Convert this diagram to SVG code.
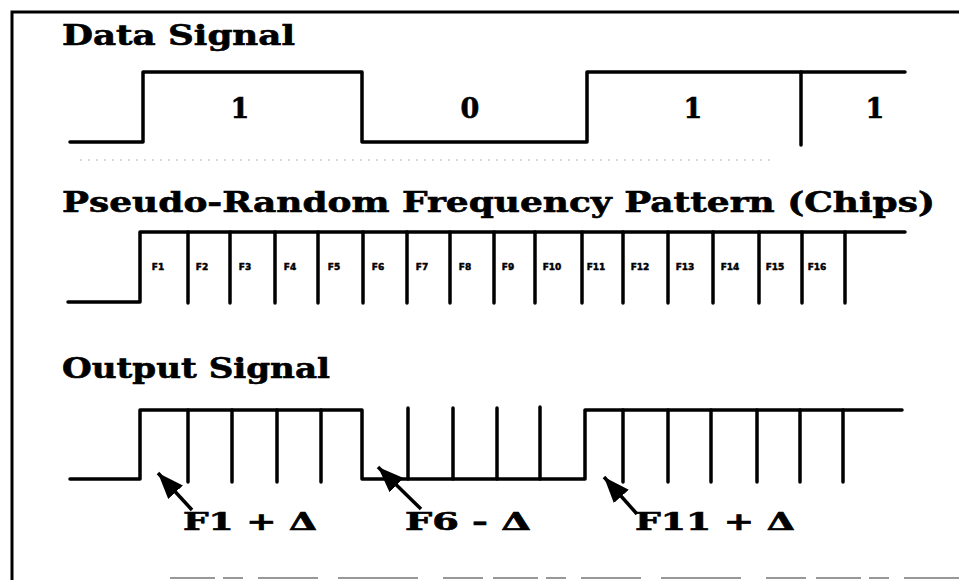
<svg xmlns="http://www.w3.org/2000/svg" width="959" height="580" viewBox="0 0 959 580">
<style>
.title{font-family:"DejaVu Serif","Liberation Serif",serif;font-weight:bold;font-size:28px;fill:#000;stroke:#000;stroke-width:0.6}
.bit{font-family:"DejaVu Serif","Liberation Serif",serif;font-weight:bold;font-size:27px;fill:#000;stroke:#000;stroke-width:0.6;text-anchor:middle}
.chip{font-family:"DejaVu Sans","Liberation Sans",sans-serif;font-weight:bold;font-size:9px;fill:#000;stroke:#000;stroke-width:0.5;text-anchor:middle}
.lbl{font-family:"DejaVu Serif","Liberation Serif",serif;font-weight:bold;font-size:25px;fill:#000;stroke:#000;stroke-width:0.7}
.wave{fill:none;stroke:#000;stroke-width:3.5;stroke-linejoin:round;stroke-linecap:round}
.tick{stroke:#000;stroke-width:3.5;stroke-linecap:round}
.arrow{stroke:#000;stroke-width:3.5}
</style>
<defs>
<marker id="ah" markerUnits="userSpaceOnUse" markerWidth="30" markerHeight="24" refX="26" refY="10" orient="auto">
<polygon points="0,0 26,10 0,20" fill="#000"/>
</marker>
</defs>
<rect width="959" height="580" fill="#fff"/>
<g id="frame">
<path d="M12,580 V12 H959" fill="none" stroke="#000" stroke-width="3"/>
<line x1="170" y1="578" x2="959" y2="578" stroke="#777" stroke-width="1.5" stroke-dasharray="45,8,20,15,60,20,80,25,40,10"/>
</g>
<g id="data-signal">
<text class="title" x="62" y="45" textLength="233" lengthAdjust="spacingAndGlyphs">Data Signal</text>
<path class="wave" d="M70,142 H143 V72 H362 V142 H587 V72 H905"/>
<line class="tick" x1="801" y1="72" x2="801" y2="145"/>
<text class="bit" x="240" y="118">1</text>
<text class="bit" x="470" y="118">0</text>
<text class="bit" x="693" y="118">1</text>
<text class="bit" x="875" y="118">1</text>
<line x1="80" y1="160" x2="770" y2="160" stroke="#ccc" stroke-width="1.5" stroke-dasharray="2,6"/>
</g>
<g id="chips">
<text class="title" x="62" y="212" textLength="873" lengthAdjust="spacingAndGlyphs">Pseudo-Random Frequency Pattern (Chips)</text>
<path class="wave" d="M68,302 H140 V232 H905"/>
<g>
<line class="tick" x1="188" y1="232" x2="188" y2="303"/>
<line class="tick" x1="230" y1="232" x2="230" y2="303"/>
<line class="tick" x1="275" y1="232" x2="275" y2="303"/>
<line class="tick" x1="318" y1="232" x2="318" y2="303"/>
<line class="tick" x1="363" y1="232" x2="363" y2="303"/>
<line class="tick" x1="407" y1="232" x2="407" y2="303"/>
<line class="tick" x1="450" y1="232" x2="450" y2="303"/>
<line class="tick" x1="494" y1="232" x2="494" y2="303"/>
<line class="tick" x1="535" y1="232" x2="535" y2="303"/>
<line class="tick" x1="582" y1="232" x2="582" y2="303"/>
<line class="tick" x1="623" y1="232" x2="623" y2="303"/>
<line class="tick" x1="668" y1="232" x2="668" y2="303"/>
<line class="tick" x1="713" y1="232" x2="713" y2="303"/>
<line class="tick" x1="759" y1="232" x2="759" y2="303"/>
<line class="tick" x1="802" y1="232" x2="802" y2="303"/>
<line class="tick" x1="845" y1="232" x2="845" y2="303"/>
</g>
<text class="chip" x="158" y="270">F1</text>
<text class="chip" x="202" y="270">F2</text>
<text class="chip" x="245" y="270">F3</text>
<text class="chip" x="290" y="270">F4</text>
<text class="chip" x="334" y="270">F5</text>
<text class="chip" x="378" y="270">F6</text>
<text class="chip" x="422" y="270">F7</text>
<text class="chip" x="465" y="270">F8</text>
<text class="chip" x="508" y="270">F9</text>
<text class="chip" x="552" y="270">F10</text>
<text class="chip" x="596" y="270">F11</text>
<text class="chip" x="640" y="270">F12</text>
<text class="chip" x="685" y="270">F13</text>
<text class="chip" x="730" y="270">F14</text>
<text class="chip" x="775" y="270">F15</text>
<text class="chip" x="817" y="270">F16</text>
</g>
<g id="output-signal">
<text class="title" x="62" y="378" textLength="268" lengthAdjust="spacingAndGlyphs">Output Signal</text>
<path class="wave" d="M70,479 H140 V410 H362 V479 H585 V410 H902"/>
<line class="tick" x1="188" y1="410" x2="188" y2="482"/>
<line class="tick" x1="232" y1="410" x2="232" y2="482"/>
<line class="tick" x1="277" y1="410" x2="277" y2="482"/>
<line class="tick" x1="321" y1="410" x2="321" y2="482"/>
<line class="tick" x1="408" y1="479" x2="408" y2="408"/>
<line class="tick" x1="453" y1="479" x2="453" y2="408"/>
<line class="tick" x1="497" y1="479" x2="497" y2="408"/>
<line class="tick" x1="540" y1="479" x2="540" y2="407"/>
<line class="tick" x1="623" y1="410" x2="623" y2="482"/>
<line class="tick" x1="668" y1="410" x2="668" y2="482"/>
<line class="tick" x1="711" y1="410" x2="711" y2="482"/>
<line class="tick" x1="757" y1="410" x2="757" y2="482"/>
<line class="tick" x1="800" y1="410" x2="800" y2="482"/>
<line class="tick" x1="843" y1="410" x2="843" y2="482"/>
<text class="lbl" x="183" y="530" textLength="134" lengthAdjust="spacingAndGlyphs">F1 + Δ</text>
<text class="lbl" x="405" y="530" textLength="126" lengthAdjust="spacingAndGlyphs">F6 - Δ</text>
<text class="lbl" x="635" y="530" textLength="160" lengthAdjust="spacingAndGlyphs">F11 + Δ</text>
</g>
<g id="connectors">
<line class="arrow" x1="192" y1="510" x2="158" y2="473" marker-end="url(#ah)"/>
<line class="arrow" x1="421" y1="509" x2="378" y2="467" marker-end="url(#ah)"/>
<line class="arrow" x1="637" y1="514" x2="604" y2="477" marker-end="url(#ah)"/>
</g>
</svg>
